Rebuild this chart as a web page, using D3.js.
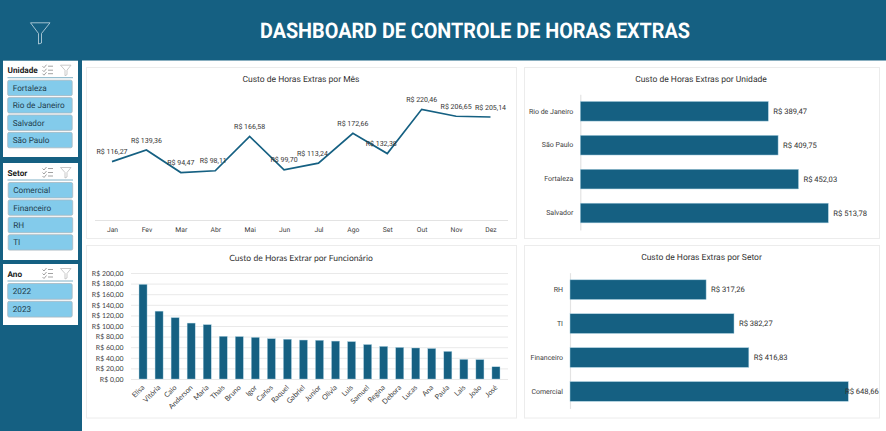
<!DOCTYPE html>
<html lang="pt-BR"><head><meta charset="utf-8">
<style>html,body{margin:0;padding:0;background:#fff}svg{display:block;text-rendering:geometricPrecision}</style>
<script src="https://cdnjs.cloudflare.com/ajax/libs/d3/7.9.0/d3.min.js"></script>
</head><body><svg id="c" width="886" height="431"></svg>
<script>
const meses=["Jan","Fev","Mar","Abr","Mai","Jun","Jul","Ago","Set","Out","Nov","Dez"];
const custoMes=[116.27,139.36,94.47,98.11,166.58,99.70,113.24,172.66,132.38,220.46,206.65,205.14];
const unidades=["Rio de Janeiro","São Paulo","Fortaleza","Salvador"];
const custoUnidade=[389.47,409.75,452.03,513.78];
const setores=["RH","TI","Financeiro","Comercial"];
const custoSetor=[317.26,382.27,416.83,648.66];
const funcionarios=["Elisa","Vitória","Caio","Anderson","Maria","Thais","Bruno","Igor","Carlos","Raquel","Gabriel","Junior","Olivia","Luis","Samuel","Regina","Debora","Lucas","Ana","Paula","Lais","João","José"];
const custoFuncionario=[178.5,128,115.7,105.5,102.5,80.5,80,78.5,76,75,73.5,73,71.5,70.5,65,61.5,59.5,58.5,57.5,52,37,36.5,23];
const filtroUnidade=["Fortaleza","Rio de Janeiro","Salvador","São Paulo"];
const filtroSetor=["Comercial","Financeiro","RH","TI"];
const filtroAno=["2022","2023"];
const ticksFuncionario=d3.range(0,201,20);

const AZUL="#156082",CLARO="#83CBEB",TXT="#404040",F="Roboto,sans-serif",L="Lato,sans-serif";
const brl=v=>"R$ "+v.toFixed(2).replace(".",",");
const svg=d3.select("#c");
svg.append("rect").attr("width",886).attr("height",431).attr("fill","#fff");
svg.append("rect").attr("width",886).attr("height",60.5).attr("fill",AZUL);
svg.append("rect").attr("width",82).attr("height",431).attr("fill",AZUL);
svg.append("text").attr("x",475).attr("y",38).attr("text-anchor","middle").attr("fill","#fff")
  .attr("font-family","Roboto,sans-serif").attr("font-weight",700).attr("font-size",21.5)
  .attr("textLength",430).attr("lengthAdjust","spacingAndGlyphs").text("DASHBOARD DE CONTROLE DE HORAS EXTRAS");
svg.append("path").attr("d","M30.5 22.8H50L41.5 33.5V43L38.5 44V33.5Z").attr("fill","none").attr("stroke","#c5dbe5").attr("stroke-width",.8);

function panel(x,y,w,h,title,fam,cx,size,ty){
  svg.append("rect").attr("x",x+.5).attr("y",y+.5).attr("width",w).attr("height",h).attr("fill","#fff").attr("stroke","#ececec");
  svg.append("text").attr("x",cx).attr("y",y+ty).attr("text-anchor","middle").attr("font-family",fam)
    .attr("font-size",size).attr("fill","#333").text(title);
}
panel(86,67,430,171,"Custo de Horas Extras por Mês",F,301,8.5,15);
panel(524,67,355,171,"Custo de Horas Extras por Unidade",F,701,8.5,15);
panel(86,245,430,172.5,"Custo de Horas Extrar por Funcionário",L,301,8.55,15.5);
panel(524,245,355,172.5,"Custo de Horas Extras por Setor",F,701.5,8.5,15);

// Linha
const xM=d3.scalePoint().domain(meses).range([112,490.5]);
const yM=d3.scaleLinear().domain([0,250]).range([220,94.5]);
const gM=svg.append("g").attr("transform","translate(0,220)").call(d3.axisBottom(xM).tickSize(0).tickPadding(7));
gM.select(".domain").attr("stroke","#e3e3e3").attr("d","M95,0.5H508");
gM.selectAll("text").attr("font-family",F).attr("font-size",6.8).attr("fill",TXT);
svg.append("path").datum(custoMes).attr("fill","none").attr("stroke",AZUL).attr("stroke-width",1.7)
  .attr("d",d3.line().x((d,i)=>xM(meses[i])).y(d=>yM(d)));
const ajuste={Abr:-2,Jul:-6,Set:-6};
svg.append("g").selectAll("text").data(custoMes).join("text")
  .attr("x",(d,i)=>xM(meses[i])+(ajuste[meses[i]]||0)).attr("y",d=>yM(d)-7.5)
  .attr("text-anchor","middle").attr("font-family",F).attr("font-size",7).attr("fill","#333").text(brl);

// Barras horizontais
function hbar(cats,vals,x0,ppu,y0,y1){
  const x=d3.scaleLinear().domain([0,100]).range([x0,x0+100*ppu]);
  const y=d3.scaleBand().domain(cats).range([y0,y1]).paddingInner(.42).paddingOuter(.21);
  const g=svg.append("g").attr("transform",`translate(${x0},0)`).call(d3.axisLeft(y).tickSize(0).tickPadding(7));
  g.select(".domain").attr("stroke","#e3e3e3").attr("stroke-width",1.2);
  g.selectAll("text").attr("font-family",F).attr("font-size",7).attr("fill",TXT);
  svg.append("g").selectAll("rect").data(vals).join("rect")
    .attr("x",x0).attr("y",(d,i)=>y(cats[i])).attr("height",y.bandwidth()).attr("width",d=>x(d)-x0)
    .attr("fill",AZUL).attr("stroke","#a9cfe0").attr("stroke-width",.5);
  svg.append("g").selectAll("text").data(vals).join("text")
    .attr("x",d=>Math.min(x(d)+5,845)).attr("y",(d,i)=>y(cats[i])+y.bandwidth()/2).attr("dy","0.35em")
    .attr("font-family",F).attr("font-size",7.6).attr("fill","#333").text(brl);
}
hbar(unidades,custoUnidade,580.3,.4827,94.3,230);
hbar(setores,custoSetor,570,.429,272.7,408.4);

// Colunas
const xF=d3.scaleBand().domain(funcionarios).range([131,508]).padding(.5);
const yF=d3.scaleLinear().domain([0,200]).range([379,273]);
const gy=svg.append("g").attr("transform","translate(131,0)")
  .call(d3.axisLeft(yF).tickValues(ticksFuncionario).tickSize(-377).tickPadding(7.5).tickFormat(brl));
gy.select(".domain").remove();
gy.selectAll("line").attr("stroke","#e9e9e9");
gy.selectAll("text").attr("font-family",L).attr("font-size",6.9).attr("fill",TXT);
svg.append("g").selectAll("rect").data(custoFuncionario).join("rect")
  .attr("x",(d,i)=>xF(funcionarios[i])).attr("width",xF.bandwidth())
  .attr("y",d=>yF(d)).attr("height",d=>yF(0)-yF(d)).attr("fill",AZUL).attr("stroke","#a9cfe0").attr("stroke-width",.4);
const gx=svg.append("g").attr("transform","translate(0,379)").call(d3.axisBottom(xF).tickSize(0));
gx.select(".domain").remove();
gx.selectAll("text").attr("font-family",L).attr("font-size",7.2).attr("fill",TXT)
  .attr("text-anchor","end").attr("y",0).attr("dx","-5").attr("dy","7.8").attr("transform","rotate(-45)");

// Segmentações
function slicer(top,h,title,items,x0){
  svg.append("rect").attr("x",3).attr("y",top).attr("width",75).attr("height",h).attr("fill","#fff");
  svg.append("text").attr("x",7.5).attr("y",top+12.5).attr("font-family",F).attr("font-weight",700).attr("font-size",8.2).attr("fill","#222").text(title);
  svg.append("line").attr("x1",7.5).attr("x2",73).attr("y1",top+17).attr("y2",top+17).attr("stroke","#7fb0c6");
  const ic=svg.append("g").attr("fill","none").attr("stroke","#8a8a8a").attr("stroke-width",.8);
  [5.5,9.5,13].forEach(d=>ic.append("path").attr("d",`M42.5 ${top+d}l1.5 1.5 2.5-3M48 ${top+d}h5`));
  ic.append("path").attr("d",`M60.5 ${top+4.5}h10.5l-4 5v4.5l-2 1v-5.5z`).attr("stroke","#bbb");
  const g=svg.append("g");
  const y=d3.scaleBand().domain(items).range([top+19.5,top+19.5+17*items.length]).paddingInner(.09);
  g.selectAll("rect").data(items).join("rect").attr("x",x0).attr("y",d=>y(d)).attr("width",64.5).attr("height",y.bandwidth()-.4)
    .attr("rx",1.5).attr("fill",CLARO).attr("stroke","#a8b8c0").attr("stroke-width",.8);
  g.selectAll("text").data(items).join("text").attr("x",x0+5).attr("y",d=>y(d)+y.bandwidth()/2).attr("dy","0.35em")
    .attr("font-family",F).attr("font-size",8.2).attr("fill","#1f3d4d").text(d=>d);
}
slicer(60.7,96.3,"Unidade",filtroUnidade,7.7);
slicer(163,97,"Setor",filtroSetor,8.2);
slicer(264,61,"Ano",filtroAno,7.7);
</script></body></html>
